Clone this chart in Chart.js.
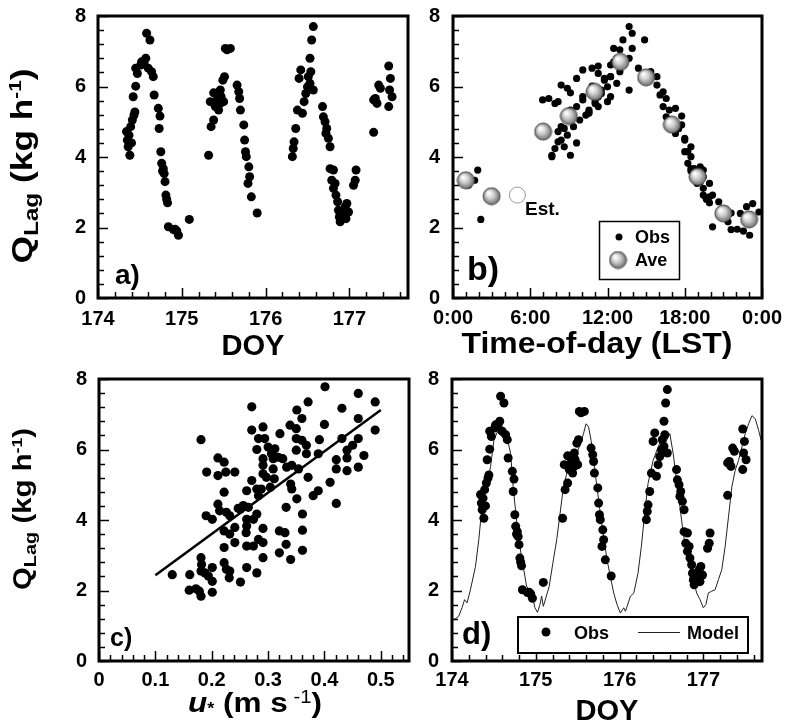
<!DOCTYPE html>
<html>
<head>
<meta charset="utf-8">
<script src="https://cdn.jsdelivr.net/npm/chart.js@4.4.1/dist/chart.umd.min.js"></script>
<style>
  html, body { margin: 0; padding: 0; background: #fff; }
  #wrap { position: relative; width: 786px; height: 725px; overflow: hidden; }
  #wrap canvas { position: absolute; left: 0; top: 0; }
</style>
</head>
<body>
<div id="wrap">
  <canvas id="ca" width="786" height="725"></canvas>
  <canvas id="cb" width="786" height="725"></canvas>
  <canvas id="cc" width="786" height="725"></canvas>
  <canvas id="cd" width="786" height="725"></canvas>
</div>
<script>
// observed Q_Lag against day of year (panels a, b, d)
const doyObs = [
  174.34,174.35,174.36,174.38,174.37,174.39,174.40,174.41,174.43,174.44,
  174.42,174.45,174.45,174.47,174.51,174.52,174.55,174.57,174.58,174.62,
  174.60,174.64,174.66,174.67,174.72,174.74,174.73,174.75,174.76,174.77,
  174.78,174.79,174.80,174.81,174.82,174.83,174.84,174.90,174.92,174.94,
  174.96,175.09,
  175.32,175.34,175.35,175.38,175.40,175.38,175.42,175.44,175.46,175.47,
  175.46,175.50,175.49,175.51,175.52,175.54,175.58,175.66,175.68,175.69,
  175.70,175.74,175.75,175.76,175.77,175.80,175.81,175.79,175.83,175.90,
  176.32,176.33,176.34,176.36,176.38,176.40,176.42,176.44,176.46,176.48,
  176.50,176.51,176.53,176.55,176.57,176.54,176.53,176.57,176.68,176.69,
  176.71,176.73,176.72,176.75,176.77,176.77,176.81,176.79,176.83,176.81,
  176.84,176.86,176.87,176.88,176.89,176.93,176.95,176.97,176.99,176.96,
  177.05,177.07,177.08,
  177.29,177.31,177.33,177.35,177.37,177.29,177.47,177.49,177.48,177.51,177.47
];
const qObs = [
  4.72,4.48,4.29,4.05,4.62,4.86,4.40,5.05,5.19,5.28,
  5.71,6.01,6.52,6.37,6.61,6.70,6.66,6.80,7.51,7.32,
  6.52,6.42,6.28,5.76,5.38,5.16,4.81,4.15,3.82,3.60,
  3.67,3.53,3.30,2.92,2.80,2.70,2.02,1.94,1.95,1.90,
  1.78,2.23,
  4.05,5.57,4.86,5.05,5.43,5.82,5.62,5.33,5.90,5.71,
  5.52,5.57,6.18,6.28,7.08,7.04,7.08,6.04,5.85,5.66,
  5.33,4.91,4.48,4.15,4.01,3.72,3.44,3.25,2.87,2.41,
  4.01,4.24,4.43,4.81,5.33,6.23,6.47,5.24,5.57,5.80,
  5.99,6.28,6.80,7.32,7.70,6.42,6.09,5.90,5.43,5.14,
  5.00,4.81,4.67,4.53,4.29,3.67,3.63,3.34,3.25,3.11,
  2.92,2.73,2.49,2.30,2.16,2.40,2.59,2.68,2.44,2.25,
  3.20,3.34,3.63,
  4.70,5.66,5.52,6.04,5.95,5.62,6.58,6.23,5.90,5.71,5.43
];

// two-hourly averages by time of day (panel b)
const aveHour = [1, 3, 7, 9, 11, 13, 15, 17, 19, 21, 23];
const aveQ = [3.34, 2.89, 4.72, 5.16, 5.85, 6.70, 6.26, 4.92, 3.44, 2.40, 2.23];
const estHour = [5];
const estQ = [2.92];

// Q_Lag against friction velocity (panel c)
const uStar = [
  0.130,0.161,0.160,0.172,0.178,0.181,0.181,0.182,0.181,0.188,
  0.194,0.201,0.201,0.201,0.181,0.191,0.190,0.201,0.211,0.222,
  0.211,0.225,0.241,0.222,0.211,0.214,0.226,0.232,0.222,0.232,
  0.241,0.222,0.241,0.222,0.226,0.232,0.231,0.251,0.247,0.256,
  0.262,0.262,0.261,0.262,0.262,0.280,0.274,0.283,0.291,0.291,
  0.280,0.262,0.271,0.280,0.283,0.288,0.291,0.271,0.271,0.291,
  0.283,0.294,0.280,0.300,0.291,0.291,0.291,0.297,0.306,0.309,
  0.312,0.309,0.318,0.311,0.304,0.321,0.333,0.342,0.340,0.342,
  0.332,0.320,0.330,0.332,0.320,0.340,0.339,0.350,0.351,0.360,
  0.350,0.360,0.350,0.368,0.368,0.354,0.351,0.361,0.361,0.361,
  0.371,0.371,0.380,0.389,0.389,0.391,0.400,0.401,0.410,0.421,
  0.421,0.421,0.431,0.431,0.440,0.440,0.440,0.450,0.460,0.460,
  0.460,0.460,0.470,0.490,0.490,0.274,0.265,0.251,0.326
];
const qU = [
  2.45,2.45,2.01,2.05,1.98,1.84,2.93,2.74,2.55,2.50,
  2.41,2.65,2.26,1.95,6.28,5.36,4.12,4.02,5.76,5.64,
  5.26,5.36,5.36,4.79,4.45,4.26,4.22,4.12,3.69,3.60,
  3.79,3.22,3.36,2.79,2.60,2.55,2.36,2.24,4.33,4.41,
  4.02,3.83,3.64,3.26,2.65,2.50,3.26,3.45,3.36,3.76,
  4.17,4.83,5.12,4.88,4.69,4.88,2.93,7.21,6.55,6.64,
  6.31,6.31,6.00,6.07,5.74,5.55,5.31,5.21,5.88,5.74,
  6.02,5.45,5.78,5.17,4.93,6.45,5.50,5.55,5.02,4.88,
  4.36,3.69,3.64,3.31,3.07,2.88,6.69,6.59,7.12,6.88,
  6.31,6.26,5.98,6.12,5.88,5.45,4.60,4.17,3.71,3.14,
  7.35,5.21,4.69,4.83,5.88,6.28,6.71,7.78,5.07,5.71,
  5.45,4.47,6.31,7.17,5.98,5.76,5.40,6.12,6.31,6.88,
  7.59,5.50,5.83,7.35,6.55,4.02,4.36,4.31,5.74
];
const fitU = [0.1, 0.5];
const fitQ = [2.43, 7.12];

// modelled Q_Lag (panel d)
const modelDoy = [
  174.00,174.04,174.08,174.12,174.15,174.18,174.22,174.28,174.32,174.35,
  174.38,174.42,174.46,174.50,174.54,174.58,174.62,174.66,174.70,174.73,
  174.77,174.81,174.85,174.89,174.95,174.99,175.02,175.05,175.07,175.09,
  175.12,175.16,175.21,175.25,175.29,175.33,175.37,175.41,175.45,175.49,
  175.53,175.57,175.60,175.63,175.66,175.69,175.73,175.77,175.81,175.85,
  175.89,175.93,175.97,176.01,176.05,176.07,176.09,176.13,176.17,176.22,
  176.26,176.30,176.34,176.40,176.46,176.51,176.55,176.60,176.64,176.68,
  176.72,176.76,176.80,176.84,176.88,176.92,176.96,177.00,177.03,177.06,
  177.10,177.14,177.18,177.22,177.26,177.30,177.34,177.38,177.42,177.46,
  177.50,177.54,177.58,177.62,177.66,177.69
];
const modelQ = [
  1.15,1.20,1.27,1.51,1.74,1.65,2.02,2.68,3.44,4.19,
  4.56,5.04,5.51,6.26,6.49,6.40,6.54,6.31,5.88,4.94,
  4.00,3.25,2.68,2.12,1.93,1.51,1.38,1.60,1.84,1.55,
  1.79,2.12,2.87,3.44,4.19,4.94,5.32,5.51,5.69,5.88,
  6.16,6.45,6.73,6.64,6.26,5.69,4.94,4.19,3.53,2.87,
  2.40,1.93,1.60,1.36,1.51,1.41,1.55,1.84,1.93,2.49,
  3.25,4.19,5.04,5.69,6.07,6.35,6.21,6.45,5.88,5.13,
  4.38,3.62,3.06,2.68,2.31,1.93,1.74,1.51,1.60,1.93,
  1.98,2.02,2.31,2.59,3.25,4.09,4.94,5.41,5.69,6.07,
  6.45,6.73,6.96,6.87,6.54,6.26
];

const dayTicks = [174, 175, 176, 177];
const hourTicks = ['0:00', '6:00', '12:00', '18:00', '0:00'];
const qTicks = [0, 2, 4, 6, 8];

const W = 786, H = 725;
const FONT = '"Liberation Sans", Arial, Helvetica, sans-serif';
const TICK_FONT = { family: FONT, size: 20, weight: 'bold' };
Chart.defaults.font.family = FONT;

function pts(xs, ys) {
  return xs.map((x, i) => ({ x: x, y: ys[i] }));
}

function makeSphere(r) {
  const c = document.createElement('canvas');
  c.width = c.height = Math.ceil(2 * r + 2);
  const g = c.getContext('2d');
  const m = c.width / 2;
  const grad = g.createRadialGradient(m - r * 0.35, m - r * 0.4, r * 0.1, m, m, r);
  grad.addColorStop(0, '#ffffff');
  grad.addColorStop(0.45, '#cecece');
  grad.addColorStop(1, '#6c6c6c');
  g.fillStyle = grad;
  g.beginPath();
  g.arc(m, m, r, 0, Math.PI * 2);
  g.fill();
  g.strokeStyle = '#4a4a4a';
  g.lineWidth = 1;
  g.stroke();
  return c;
}
const sphere = makeSphere(8.5);

function richText(ctx, segs, x, y, rot, width) {
  let total = 0;
  const widths = segs.map(s => {
    ctx.font = s.font;
    const w = ctx.measureText(s.t).width;
    total += w;
    return w;
  });
  const k = width ? width / total : 1;
  ctx.save();
  ctx.translate(x, y);
  ctx.rotate(rot);
  ctx.scale(k, 1);
  ctx.fillStyle = '#000';
  ctx.textAlign = 'left';
  ctx.textBaseline = 'alphabetic';
  let cx = -total / 2;
  segs.forEach((s, i) => {
    ctx.font = s.font;
    ctx.fillText(s.t, cx, s.dy || 0);
    cx += widths[i];
  });
  ctx.restore();
}

function qTitle(size) {
  return [
    { t: 'Q', font: `bold ${size}px ${FONT}` },
    { t: 'Lag', font: `bold ${Math.round(size * 0.68)}px ${FONT}`, dy: size * 0.2 },
    { t: ' (kg h', font: `bold ${size}px ${FONT}` },
    { t: '-1', font: `bold ${Math.round(size * 0.6)}px ${FONT}`, dy: -size * 0.38 },
    { t: ')', font: `bold ${size}px ${FONT}` }
  ];
}
const doyTitle = [{ t: 'DOY', font: `bold 29px ${FONT}` }];
const todTitle = [{ t: 'Time-of-day (LST)', font: `bold 29px ${FONT}` }];
const uTitle = [
  { t: 'u', font: `italic bold 28px ${FONT}` },
  { t: '*', font: `bold 16px ${FONT}`, dy: 2 },
  { t: ' (m s', font: `bold 28px ${FONT}` },
  { t: ' -1', font: `18px ${FONT}`, dy: -9 },
  { t: ')', font: `bold 28px ${FONT}` }
];

// frame, inward ticks, titles, panel letter and legend
function panelPlugin(cfg) {
  return {
    id: 'panel',
    afterDatasetsDraw(chart) {
      const { ctx, chartArea: a } = chart;
      const xs = chart.scales.x, ys = chart.scales.y;
      ctx.save();
      ctx.strokeStyle = '#000';
      ctx.lineWidth = 1.5;
      const nx = Math.floor((xs.max - xs.min) / cfg.xMinor + 1e-6);
      for (let i = 0; i <= nx; i++) {
        const v = xs.min + i * cfg.xMinor;
        const major = Math.abs(v / cfg.xMajor - Math.round(v / cfg.xMajor)) < 1e-6;
        const px = Math.round(xs.getPixelForValue(v)) + 0.5;
        ctx.beginPath();
        ctx.moveTo(px, a.bottom);
        ctx.lineTo(px, a.bottom - (major ? 10 : 6));
        ctx.stroke();
      }
      const ny = Math.floor((ys.max - ys.min) / cfg.yMinor + 1e-6);
      for (let i = 0; i <= ny; i++) {
        const v = ys.min + i * cfg.yMinor;
        const major = Math.abs(v / cfg.yMajor - Math.round(v / cfg.yMajor)) < 1e-6;
        const py = Math.round(ys.getPixelForValue(v)) + 0.5;
        ctx.beginPath();
        ctx.moveTo(a.left, py);
        ctx.lineTo(a.left + (major ? 10 : 6), py);
        ctx.stroke();
      }

      if (cfg.legend === 'b') {
        ctx.fillStyle = '#fff';
        ctx.fillRect(599, 221, 80, 58);
        ctx.lineWidth = 1.5;
        ctx.strokeRect(599.5, 221.5, 80, 58);
        ctx.fillStyle = '#000';
        ctx.beginPath();
        ctx.arc(619, 237, 3.5, 0, Math.PI * 2);
        ctx.fill();
        ctx.drawImage(sphere, 618 - sphere.width / 2, 260 - sphere.height / 2);
        ctx.font = `bold 18px ${FONT}`;
        ctx.textAlign = 'left';
        ctx.textBaseline = 'alphabetic';
        ctx.fillText('Obs', 635, 243);
        ctx.fillText('Ave', 635, 266);
        ctx.font = `bold 19px ${FONT}`;
        ctx.fillText('Est.', 525, 215);
      }
      if (cfg.legend === 'd') {
        ctx.fillStyle = '#fff';
        ctx.fillRect(518, 617, 230, 36);
        ctx.lineWidth = 2;
        ctx.strokeRect(518, 617, 230, 36);
        ctx.fillStyle = '#000';
        ctx.beginPath();
        ctx.arc(546, 632, 4.5, 0, Math.PI * 2);
        ctx.fill();
        ctx.lineWidth = 1;
        ctx.strokeStyle = '#222';
        ctx.beginPath();
        ctx.moveTo(638, 632.5);
        ctx.lineTo(680, 632.5);
        ctx.stroke();
        ctx.strokeStyle = '#000';
        ctx.font = `bold 18px ${FONT}`;
        ctx.textAlign = 'left';
        ctx.textBaseline = 'alphabetic';
        ctx.fillText('Obs', 574, 639);
        ctx.fillText('Model', 687, 639);
      }

      ctx.lineWidth = 3;
      ctx.strokeRect(a.left, a.top, a.right - a.left, a.bottom - a.top);

      ctx.fillStyle = '#000';
      ctx.font = `bold ${cfg.label.size}px ${FONT}`;
      ctx.textAlign = 'left';
      ctx.textBaseline = 'alphabetic';
      ctx.fillText(cfg.label.t, cfg.label.x, cfg.label.y);

      const xt = cfg.xTitle;
      richText(ctx, xt.segs, xt.cx, xt.y, 0, xt.w);
      if (cfg.yTitle) {
        const yt = cfg.yTitle;
        richText(ctx, yt.segs, yt.x, yt.cy, -Math.PI / 2, yt.w);
      }
      ctx.restore();
    }
  };
}

function makeChart(id, area, xs, ys, datasets, cfg) {
  const YW = 60, XH = 50;
  return new Chart(document.getElementById(id), {
    type: 'scatter',
    data: { datasets: datasets },
    options: {
      responsive: false,
      animation: false,
      devicePixelRatio: 1,
      events: [],
      layout: {
        padding: { left: area.l - YW, top: area.t, right: W - area.r, bottom: H - area.b - XH }
      },
      plugins: { legend: { display: false }, tooltip: { enabled: false } },
      scales: {
        x: {
          type: 'linear', position: 'bottom', min: xs.min, max: xs.max,
          afterFit: s => { s.height = XH; s.paddingLeft = 0; s.paddingRight = 0; },
          grid: { display: false, drawTicks: false },
          border: { display: false },
          ticks: {
            stepSize: xs.step, includeBounds: false, autoSkip: false, maxRotation: 0, minRotation: 0,
            padding: xs.pad, color: '#000', font: TICK_FONT, callback: xs.fmt
          }
        },
        y: {
          type: 'linear', position: 'left', min: 0, max: 8,
          afterFit: s => { s.width = YW; s.paddingTop = 0; s.paddingBottom = 0; },
          grid: { display: false, drawTicks: false },
          border: { display: false },
          ticks: {
            stepSize: 2, includeBounds: false, autoSkip: false, padding: ys.pad, color: '#000', font: TICK_FONT,
            callback: v => qTicks.includes(v) ? String(v) : ''
          }
        }
      }
    },
    plugins: [panelPlugin(cfg)]
  });
}

const dayFmt = v => dayTicks.includes(v) ? String(v) : '';
const obsStyle = r => ({ pointRadius: r, pointBackgroundColor: '#000', pointBorderWidth: 0, showLine: false });

// a) Q_Lag vs DOY
makeChart('ca', { l: 98, t: 16, r: 408, b: 298 },
  { min: 174, max: 177.7, step: 1, pad: 9, fmt: dayFmt },
  { pad: 12 },
  [Object.assign({ data: pts(doyObs, qObs) }, obsStyle(4.5))],
  {
    xMinor: 0.2, xMajor: 1, yMinor: 0.4, yMajor: 2,
    label: { t: 'a)', x: 115, y: 284, size: 28 },
    xTitle: { segs: doyTitle, cx: 253, y: 355, w: 63 },
    yTitle: { segs: qTitle(29), x: 32, cy: 166, w: 195 }
  });

// b) Q_Lag vs time of day
const hourObs = doyObs.map(d => (d - Math.floor(d)) * 24);
makeChart('cb', { l: 453, t: 16, r: 762, b: 298 },
  { min: 0, max: 24, step: 6, pad: 8, fmt: v => hourTicks[Math.round(v / 6)] || '' },
  { pad: 13 },
  [
    { data: pts(aveHour, aveQ), pointStyle: sphere, pointRadius: 9, showLine: false, order: 0 },
    { data: pts(estHour, estQ), pointRadius: 8, pointBackgroundColor: 'rgba(0,0,0,0)',
      pointBorderColor: '#9a9a9a', pointBorderWidth: 1, showLine: false, order: 1 },
    Object.assign({ data: pts(hourObs, qObs), order: 2 }, obsStyle(3.6))
  ],
  {
    xMinor: 1, xMajor: 6, yMinor: 0.4, yMajor: 2, legend: 'b',
    label: { t: 'b)', x: 467, y: 280, size: 34 },
    xTitle: { segs: todTitle, cx: 597, y: 353, w: 271 }
  });

// c) Q_Lag vs u*
makeChart('cc', { l: 99, t: 379, r: 409, b: 661 },
  { min: 0, max: 0.55, step: 0.1, pad: 7, fmt: v => v === 0 ? '0' : v.toFixed(1) },
  { pad: 12 },
  [
    { data: pts(fitU, fitQ), showLine: true, borderColor: '#000', borderWidth: 2.5, pointRadius: 0, order: 0 },
    Object.assign({ data: pts(uStar, qU), order: 1 }, obsStyle(4.6))
  ],
  {
    xMinor: 0.02, xMajor: 0.1, yMinor: 0.4, yMajor: 2,
    label: { t: 'c)', x: 110, y: 646, size: 25 },
    xTitle: { segs: uTitle, cx: 255, y: 712, w: 134 },
    yTitle: { segs: qTitle(25), x: 31, cy: 509, w: 162 }
  });

// d) observed vs modelled
makeChart('cd', { l: 452, t: 379, r: 762, b: 661 },
  { min: 174, max: 177.7, step: 1, pad: 7, fmt: dayFmt },
  { pad: 13 },
  [
    Object.assign({ data: pts(doyObs, qObs), order: 0 }, obsStyle(4.5)),
    { data: pts(modelDoy, modelQ), showLine: true, borderColor: '#222', borderWidth: 1, pointRadius: 0, order: 1 }
  ],
  {
    xMinor: 0.2, xMajor: 1, yMinor: 0.4, yMajor: 2, legend: 'd',
    label: { t: 'd)', x: 462, y: 644, size: 31 },
    xTitle: { segs: doyTitle, cx: 607, y: 720, w: 63 }
  });
</script>
</body>
</html>
